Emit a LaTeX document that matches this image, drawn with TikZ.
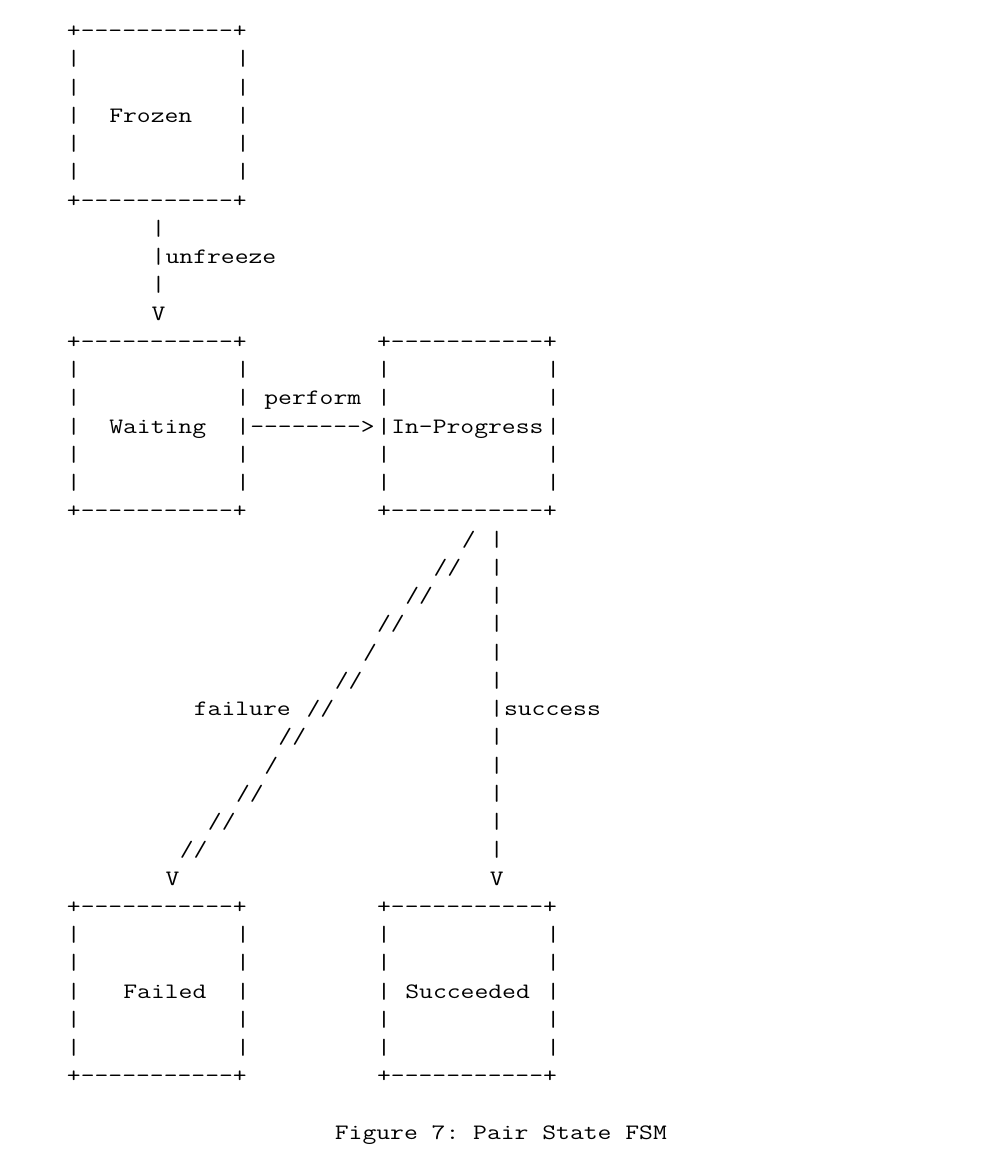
\documentclass[tikz,border=0pt]{standalone}
\usepackage{fontspec}
\setmonofont{Latin Modern Mono}[FakeStretch=1.221]

\begin{document}
\begin{tikzpicture}[x=14.1pt,y=-28.25pt,
  ch/.style={anchor=base west,inner sep=0pt,outer sep=0pt,
    font=\ttfamily\fontsize{22}{28}\selectfont}]
\useasboundingbox (-66.95pt,37.5pt) rectangle (934.05pt,-1121.5pt);
% the five state boxes, top left corner at (col,row)
\foreach \c/\r/\n in {0/0/frozen,0/11/waiting,22/11/inprog,0/31/failed,22/31/succ}{
  \node[ch] (\n-top) at (\c,\r) {+-----------+};
  \node[ch] (\n-bot) at (\c,\r+6) {+-----------+};
  \foreach \i in {1,...,5}{
    \node[ch] (\n-l\i) at (\c,\r+\i) {|};
    \node[ch] (\n-r\i) at (\c+12,\r+\i) {|};
  }
}
\node[ch] (frozen) at (3,3) {Frozen};
\node[ch] (waiting) at (3,14) {Waiting};
\node[ch] (inprog) at (23,14) {In-Progress};
\node[ch] (failed) at (4,34) {Failed};
\node[ch] (succ) at (24,34) {Succeeded};
% unfreeze
\foreach \r in {7,8,9}
  \node[ch] (unf-\r) at (6,\r) {|};
\node[ch] (unfreeze) at (7,8) {unfreeze};
\node[ch] (unf-v) at (6,10) {V};
% perform
\node[ch] (perform) at (14,13) {perform};
\node[ch] (perf-arrow) at (13,14) {-------->};
% failure
\foreach \r/\c/\s in {18/28/{/},19/26/{//},20/24/{//},21/22/{//},22/21/{/},23/19/{//},
    24/17/{//},25/15/{//},26/14/{/},27/12/{//},28/10/{//},29/8/{//}}
  \node[ch] (fail-\r) at (\c,\r) {\s};
\node[ch] (failure) at (9,24) {failure};
\node[ch] (fail-v) at (7,30) {V};
% success
\foreach \r in {18,...,29}
  \node[ch] (succ-\r) at (30,\r) {|};
\node[ch] (success) at (31,24) {success};
\node[ch] (succ-v) at (30,30) {V};
% caption
\node[ch] (caption) at (19,39) {Figure 7: Pair State FSM};
\end{tikzpicture}
\end{document}
